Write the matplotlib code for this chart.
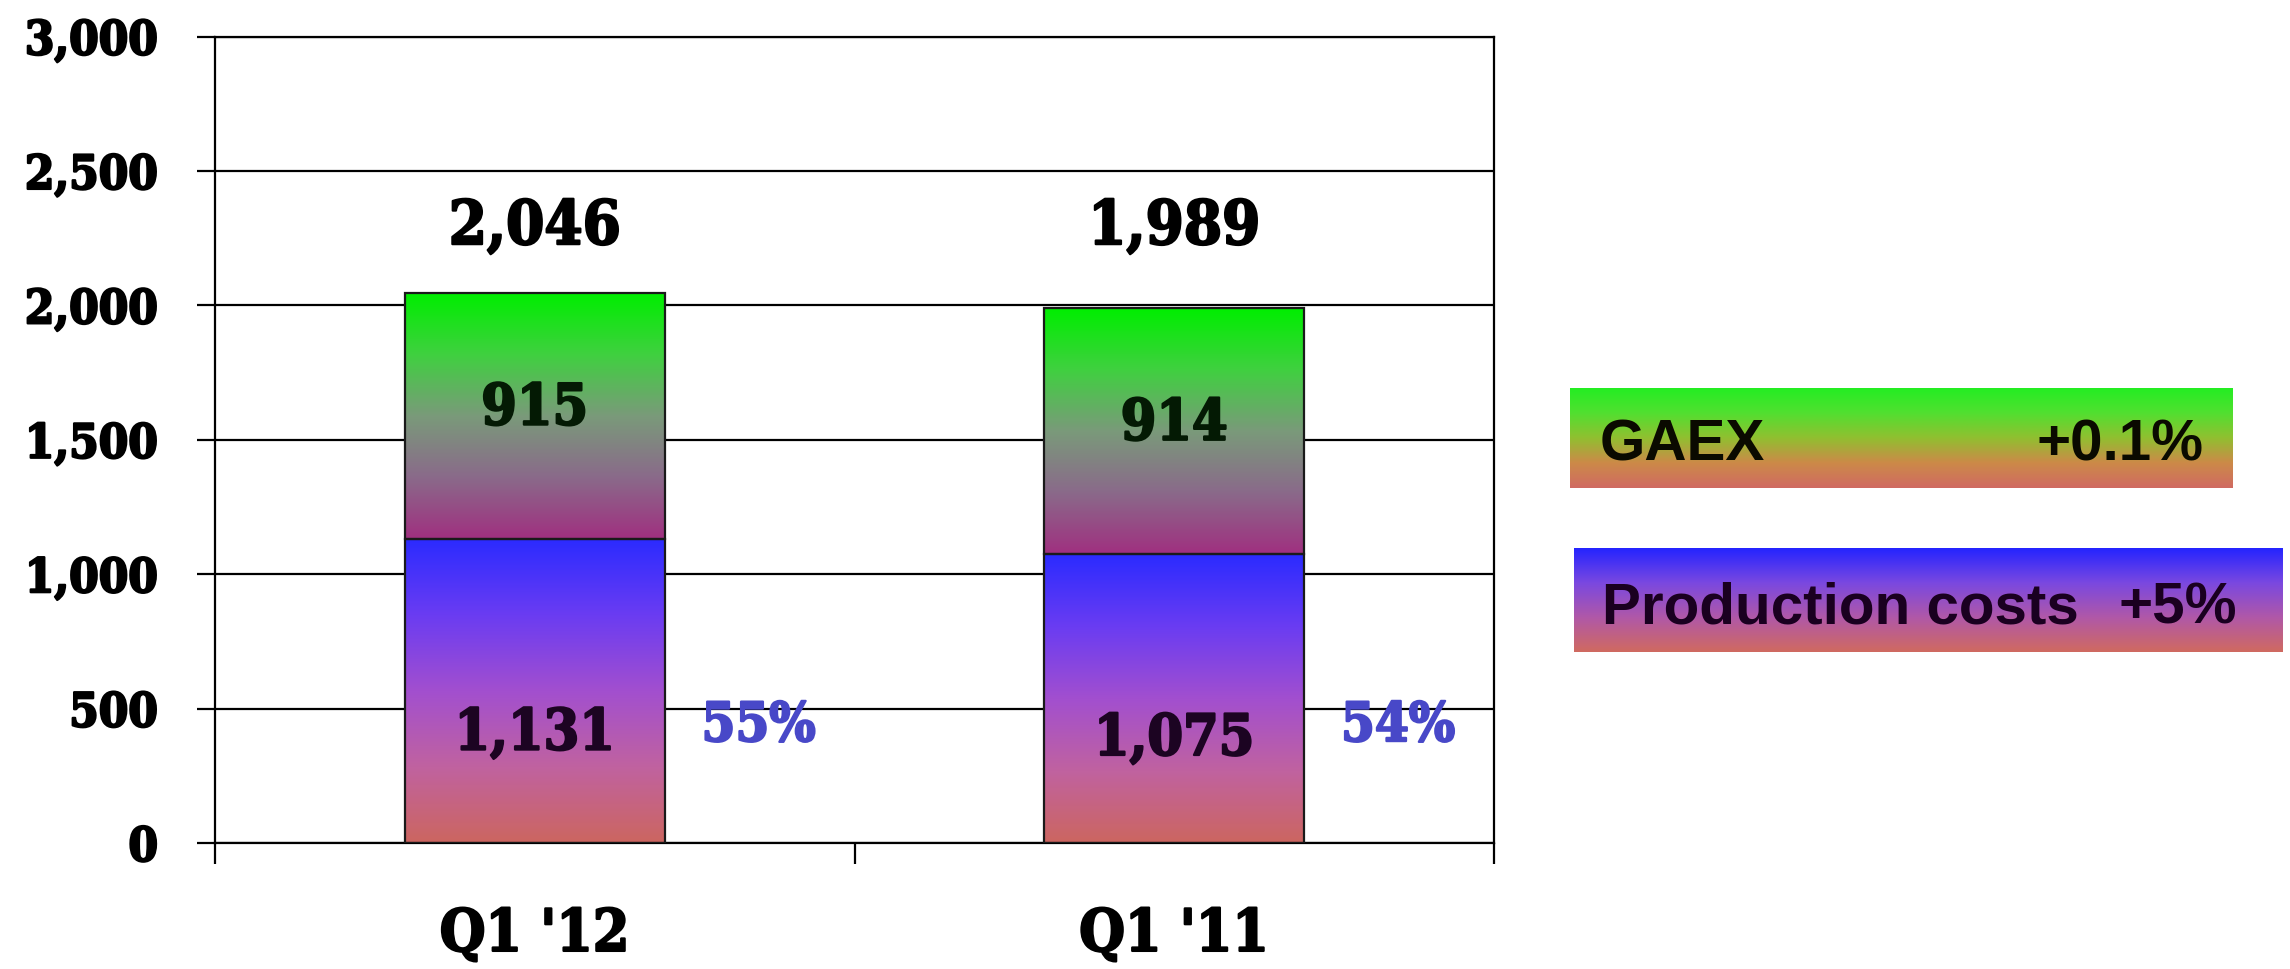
import matplotlib
matplotlib.use("Agg")
import matplotlib.pyplot as plt
import matplotlib.patheffects as pe
import numpy as np
from matplotlib.colors import LinearSegmentedColormap

# data
quarters = ["Q1 '12", "Q1 '11"]
production = [1131, 1075]
gaex = [915, 914]
totals = [2046, 1989]
prod_share = ["55%", "54%"]
yticks = [0, 500, 1000, 1500, 2000, 2500, 3000]
legend_labels = ["GAEX", "Production costs"]
legend_changes = ["+0.1%", "+5%"]

# gradients, listed bottom -> top
prod_cmap = LinearSegmentedColormap.from_list(
    "prod", ["#cc6660", "#c062a0", "#a24fcf", "#6a3cf2", "#2b2bff"])
gaex_cmap = LinearSegmentedColormap.from_list(
    "gaex", ["#a03080", "#8a6a8a", "#7a9a7a", "#40d040", "#00ee00"])
leg_gaex_cmap = LinearSegmentedColormap.from_list(
    "lgaex", ["#d06a62", "#cc8a48", "#90c030", "#50e030", "#22ee22"])
leg_prod_cmap = LinearSegmentedColormap.from_list(
    "lprod", ["#d06a60", "#b058a8", "#7a48e0", "#2424ff"])

NUM = dict(family=["DejaVu Serif Condensed", "DejaVu Serif"],
           fontstretch="condensed", fontweight="bold")
grad = np.linspace(0, 1, 256).reshape(-1, 1)


def heavy(color, lw=1.6):
    return [pe.withStroke(linewidth=lw, foreground=color)]


fig = plt.figure(figsize=(22.9, 9.69), dpi=100)
ax = fig.add_axes([0.0939, 0.130, 0.5585, 0.8323])

x = np.arange(len(quarters))
width = 0.406


def fill_gradient(ax, bars, cmap):
    for b in bars:
        bx, by = b.get_x(), b.get_y()
        bw, bh = b.get_width(), b.get_height()
        im = ax.imshow(grad, extent=[bx, bx + bw, by, by + bh], origin="lower",
                       cmap=cmap, aspect="auto", zorder=2, interpolation="bilinear")
        im.set_clip_path(b)


bars_p = ax.bar(x, production, width, facecolor="none", edgecolor="#1a1a1a",
                linewidth=1.6, zorder=3)
bars_g = ax.bar(x, gaex, width, bottom=production, facecolor="none",
                edgecolor="#1a1a1a", linewidth=1.6, zorder=3)
fill_gradient(ax, bars_p, prod_cmap)
fill_gradient(ax, bars_g, gaex_cmap)

ax.set_xlim(-0.5, len(quarters) - 0.5)
ax.set_ylim(0, 3000)

ax.set_yticks(yticks)
ax.set_yticklabels([f"{v:,}" for v in yticks], fontsize=34, **NUM)
for lbl in ax.get_yticklabels():
    lbl.set_path_effects(heavy("black"))
ax.yaxis.grid(True, color="black", linewidth=1.6, zorder=0)
ax.set_axisbelow(True)
ax.tick_params(axis="y", direction="out", length=13, width=1.6, pad=28)

ax.set_xticks(np.arange(len(quarters) + 1) - 0.5)
ax.set_xticklabels([])
ax.tick_params(axis="x", which="major", direction="out", length=15, width=1.6)
ax.set_xticks(x, minor=True)
ax.set_xticklabels(quarters, minor=True, fontsize=42, **NUM)
for lbl in ax.get_xticklabels(minor=True):
    lbl.set_path_effects(heavy("black"))
ax.tick_params(axis="x", which="minor", length=0, pad=46)

for s in ax.spines.values():
    s.set_linewidth(1.6)
    s.set_color("black")

# totals above bars
for xi, t in zip(x, totals):
    ax.text(xi, max(totals) + 245, f"{t:,}", ha="center", va="center",
            fontsize=44, color="black", path_effects=heavy("black"), **NUM)

# segment labels
for xi, p, g in zip(x, production, gaex):
    ax.text(xi, p * 0.36, f"{p:,}", ha="center", va="center", fontsize=41,
            color="#1c0422", zorder=4, path_effects=heavy("#1c0422"), **NUM)
    ax.text(xi, p + g * 0.53, f"{g:,}", ha="center", va="center", fontsize=41,
            color="#041a04", zorder=4, path_effects=heavy("#041a04"), **NUM)

# production share labels
for xi, s in zip(x, prod_share):
    ax.text(xi + 0.35, 435, s, ha="center", va="center", fontsize=39,
            color="#4848c8", zorder=4, path_effects=heavy("#4848c8"), **NUM)

# custom gradient legend boxes
boxes = [
    ([0.6856, 0.4964, 0.2895, 0.1032], leg_gaex_cmap, 0.045, 0.956, "#0a0a00"),
    ([0.6873, 0.3271, 0.3096, 0.1073], leg_prod_cmap, 0.040, 0.935, "#1a0020"),
]
for (rect, cmap, xl, xr, tc), lab, chg in zip(boxes, legend_labels, legend_changes):
    lax = fig.add_axes(rect)
    lax.imshow(grad, extent=[0, 1, 0, 1], origin="lower", cmap=cmap,
               aspect="auto", interpolation="bilinear")
    lax.set_xlim(0, 1)
    lax.set_ylim(0, 1)
    lax.axis("off")
    lax.text(xl, 0.27, lab, ha="left", va="baseline", fontsize=42,
             fontweight="bold", family="Liberation Sans", color=tc)
    lax.text(xr, 0.27, chg, ha="right", va="baseline", fontsize=42,
             fontweight="bold", family="Liberation Sans", color=tc)

fig.savefig("out.png", dpi=100, facecolor="white")
